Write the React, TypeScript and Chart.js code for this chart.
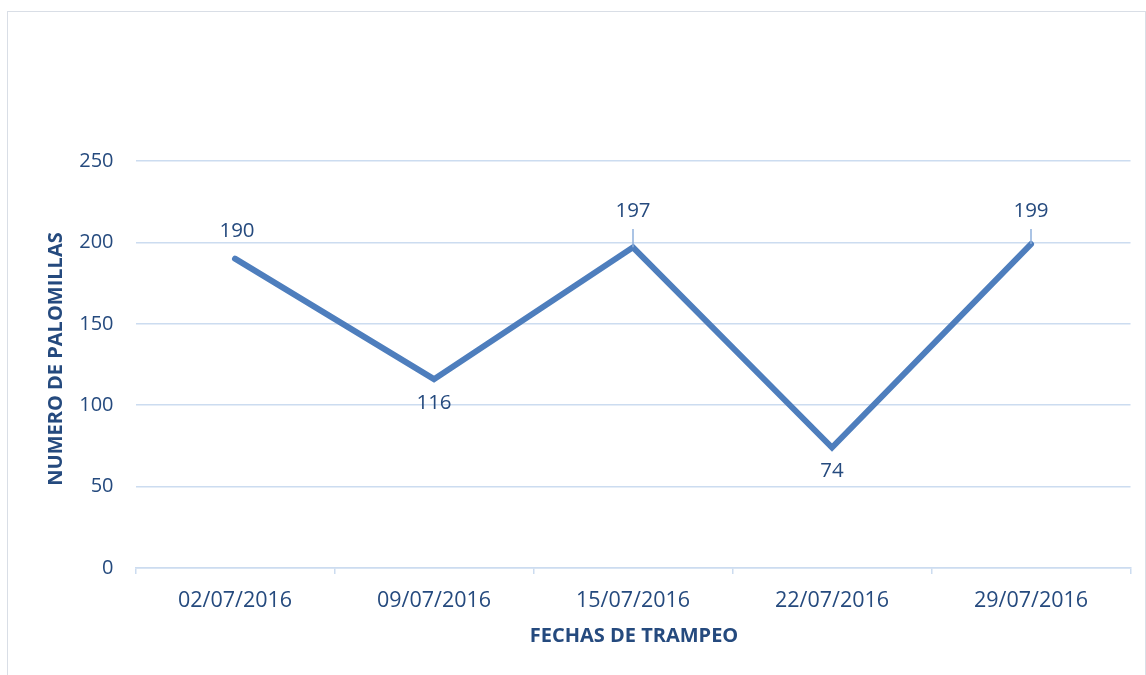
import React, { useEffect, useRef } from "react";
import { Chart, registerables } from "chart.js";

Chart.register(...registerables);

const categories = ["02/07/2016", "09/07/2016", "15/07/2016", "22/07/2016", "29/07/2016"];
const palomillas = [190, 116, 197, 74, 199];
const labelPositions = ["above", "below", "above-leader", "below", "above-leader"];
const yTicks = [0, 50, 100, 150, 200, 250];
const yTitle = "NUMERO DE PALOMILLAS";
const xTitle = "FECHAS DE TRAMPEO";

const TEXT = "#254A7E";
const LINE = "#4E7EBD";
const GRID = "#CCDCF0";
const FONT = "'Open Sans', 'Liberation Sans', sans-serif";

export default function App() {
  const ref = useRef<HTMLCanvasElement | null>(null);

  useEffect(() => {
    document.body.style.margin = "0";
    const canvas = ref.current;
    if (!canvas) return;

    const framePlugin = {
      id: "frame",
      beforeDraw(chart: any) {
        const ctx = chart.ctx;
        ctx.save();
        ctx.fillStyle = "#ffffff";
        ctx.fillRect(0, 0, chart.width, chart.height);
        ctx.strokeStyle = "#D9DEE6";
        ctx.lineWidth = 1;
        ctx.strokeRect(7.5, 11.5, chart.width - 8, chart.height + 10);
        ctx.restore();
      },
    };

    const labelPlugin = {
      id: "pointLabels",
      afterDatasetsDraw(chart: any) {
        const ctx = chart.ctx;
        const meta = chart.getDatasetMeta(0);
        ctx.save();
        ctx.font = `20.5px ${FONT}`;
        ctx.fillStyle = TEXT;
        ctx.textAlign = "center";
        ctx.textBaseline = "middle";
        meta.data.forEach((pt: any, i: number) => {
          const pos = labelPositions[i];
          const v = String(palomillas[i]);
          if (pos === "below") {
            ctx.fillText(v, pt.x, pt.y + 24);
          } else if (pos === "above") {
            ctx.fillText(v, pt.x + 2, pt.y - 28);
          } else {
            const ly = 211;
            ctx.fillText(v, pt.x, ly);
            ctx.strokeStyle = "#8FB0DC";
            ctx.lineWidth = 1.5;
            ctx.beginPath();
            ctx.moveTo(pt.x, ly + 18);
            ctx.lineTo(pt.x, pt.y);
            ctx.stroke();
          }
        });
        ctx.restore();
      },
    };

    const titlePlugin = {
      id: "axisTitles",
      afterDraw(chart: any) {
        const ctx = chart.ctx;
        const area = chart.chartArea;
        ctx.save();
        ctx.font = `bold 20px ${FONT}`;
        ctx.fillStyle = TEXT;
        ctx.textAlign = "center";
        ctx.textBaseline = "middle";
        ctx.fillText(xTitle, (area.left + area.right) / 2 + 1, 636);
        ctx.translate(56, 359);
        ctx.rotate(-Math.PI / 2);
        ctx.fillText(yTitle, 0, 0);
        ctx.restore();
      },
    };

    const chart = new Chart(canvas, {
      type: "line",
      data: {
        labels: categories,
        datasets: [
          {
            data: palomillas,
            borderColor: LINE,
            borderWidth: 6,
            pointRadius: 0,
            pointHoverRadius: 0,
            tension: 0,
            borderCapStyle: "round",
            borderJoinStyle: "miter",
          },
        ],
      },
      options: {
        animation: false,
        responsive: false,
        maintainAspectRatio: false,
        layout: { padding: { left: 0, right: 15.5, top: 161, bottom: 0 } },
        plugins: { legend: { display: false }, tooltip: { enabled: false } },
        scales: {
          x: {
            offset: true,
            grid: {
              display: true,
              offset: true,
              drawOnChartArea: false,
              drawTicks: true,
              tickLength: 6,
              color: GRID,
              lineWidth: 1.5,
            },
            border: { display: true, color: GRID, width: 1.5 },
            ticks: {
              color: TEXT,
              font: { family: FONT, size: 21.5 },
              padding: 14,
              maxRotation: 0,
            },
            afterFit(scale: any) {
              scale.height = 107;
            },
          },
          y: {
            min: 0,
            max: 250,
            afterBuildTicks(scale: any) {
              scale.ticks = yTicks.map((v) => ({ value: v }));
            },
            grid: { color: GRID, lineWidth: 1.5, drawTicks: false },
            border: { display: false },
            ticks: {
              color: TEXT,
              font: { family: FONT, size: 20 },
              padding: 22,
            },
            afterFit(scale: any) {
              scale.width = 135.5;
            },
          },
        },
      },
      plugins: [framePlugin, labelPlugin, titlePlugin],
    });

    return () => chart.destroy();
  }, []);

  return (
    <div style={{ width: 1146, height: 675 }}>
      <canvas ref={ref} width={1146} height={675} style={{ display: "block" }} />
    </div>
  );
}
